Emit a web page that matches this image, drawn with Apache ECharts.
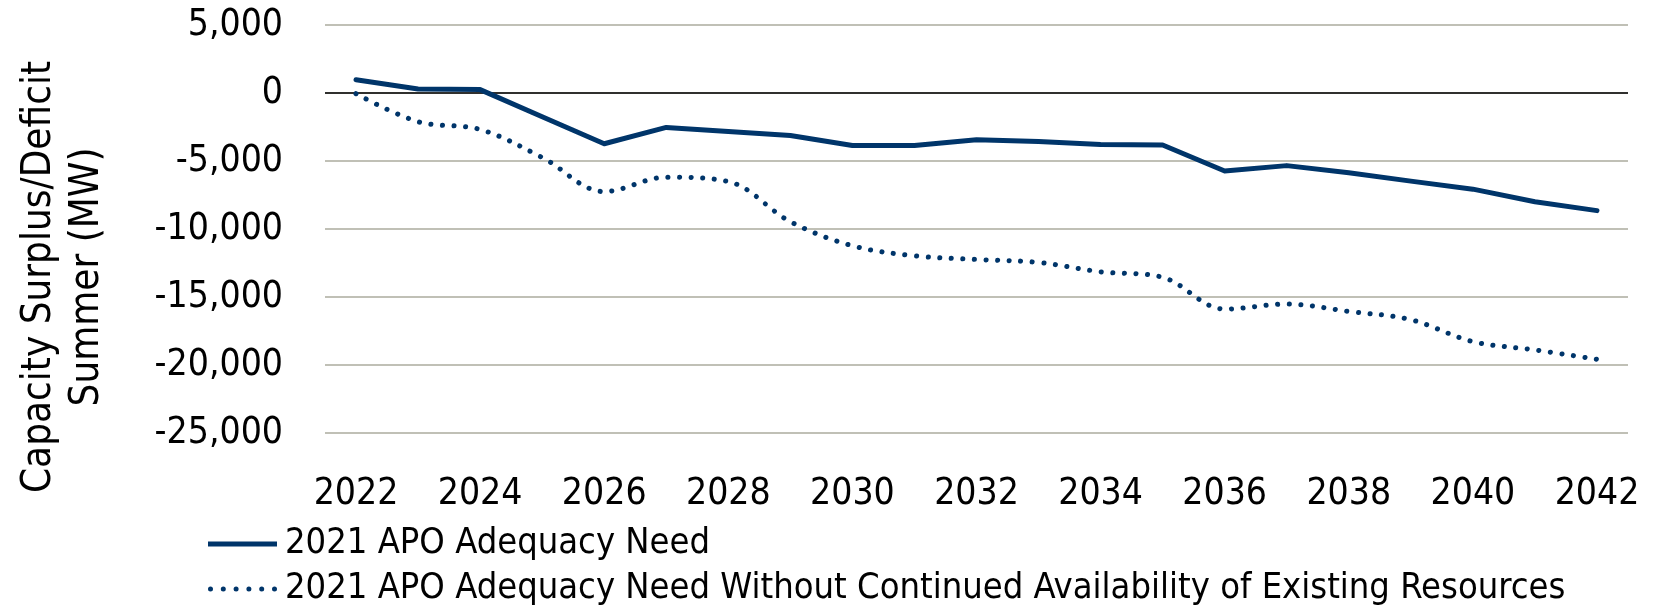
<!DOCTYPE html>
<html>
<head>
<meta charset="utf-8">
<script src="https://cdn.jsdelivr.net/npm/echarts@6/dist/echarts.min.js"></script>
<style>
html,body{margin:0;padding:0;background:#fff;}
#chart{width:1657px;height:613px;}
</style>
</head>
<body>
<div id="chart"></div>
<script>
const years = ['2022','2023','2024','2025','2026','2027','2028','2029','2030','2031','2032',
               '2033','2034','2035','2036','2037','2038','2039','2040','2041','2042'];
const adequacyNeed = [980, 290, 250, -1750, -3730, -2530, -2830, -3120, -3860, -3860, -3440,
                      -3560, -3790, -3820, -5740, -5340, -5860, -6480, -7070, -8000, -8650];
const withoutExisting = [-50, -2110, -2680, -4740, -7250, -6190, -6510, -9460, -11230, -11970, -12240,
                         -12460, -13150, -13550, -15890, -15520, -16060, -16670, -18280, -18890, -19580];
const yTicks = [-25000, -20000, -15000, -10000, -5000, 0, 5000];
const seriesNames = ['2021 APO Adequacy Need',
  '2021 APO Adequacy Need Without Continued Availability of Existing Resources'];
const yTitle = 'Capacity Surplus/Deficit\nSummer (MW)';

const FONT = "'DejaVu Sans Condensed', 'DejaVu Sans', sans-serif";
const NAVY = '#00356A';

const DOTS_ICON = 'path://' + [2.5, 15.3, 28.1, 40.9, 53.7, 66.5].map(cx =>
  'M' + (cx - 2.5) + ',2.5a2.5,2.5 0 1,0 5,0a2.5,2.5 0 1,0 -5,0Z').join(' ');

const legendBase = {
  orient: 'vertical',
  left: 208,
  padding: 0,
  itemWidth: 69,
  itemHeight: 5,
  textStyle: {color: '#000', fontSize: 36, fontFamily: FONT, lineHeight: 40, padding: [0, 0, 0, 3]}
};

const chart = echarts.init(document.getElementById('chart'), null, {renderer: 'canvas'});
chart.setOption({
  animation: false,
  backgroundColor: '#ffffff',
  textStyle: {fontFamily: FONT},
  grid: {left: 325, right: 29, top: 25, bottom: 180},
  xAxis: {
    type: 'category',
    data: years,
    boundaryGap: true,
    axisLine: {show: false},
    axisTick: {show: false},
    splitLine: {show: false},
    axisLabel: {interval: 1, color: '#000', fontSize: 37, fontFamily: FONT, margin: 43}
  },
  yAxis: {
    type: 'value',
    min: yTicks[0],
    max: yTicks[yTicks.length - 1],
    interval: yTicks[1] - yTicks[0],
    axisLine: {show: false},
    axisTick: {show: false},
    splitLine: {show: true, lineStyle: {color: '#C0C0B6', width: 2}},
    axisLabel: {
      color: '#000', fontSize: 37, fontFamily: FONT, margin: 42,
      formatter: v => v.toLocaleString('en-US')
    }
  },
  legend: [
    Object.assign({}, legendBase, {top: 524, data: [{name: seriesNames[0], icon: 'rect'}]}),
    Object.assign({}, legendBase, {top: 569, data: [{name: seriesNames[1], icon: DOTS_ICON}]})
  ],
  graphic: [{
    type: 'text',
    x: 64,
    y: 277,
    rotation: Math.PI / 2,
    style: {
      text: yTitle,
      font: "40px 'DejaVu Sans Condensed', 'DejaVu Sans', sans-serif",
      fill: '#000',
      align: 'center',
      verticalAlign: 'middle',
      lineHeight: 48
    }
  }],
  series: [{
    name: seriesNames[0],
    type: 'line',
    data: adequacyNeed,
    symbol: 'none',
    showSymbol: false,
    lineStyle: {color: NAVY, width: 5, cap: 'round', join: 'round'},
    itemStyle: {color: NAVY},
    z: 3,
    markLine: {
      silent: true,
      symbol: 'none',
      z: 1,
      label: {show: false},
      lineStyle: {color: '#000', width: 1.5, type: 'solid'},
      data: [{yAxis: 0}]
    }
  }, {
    name: seriesNames[1],
    type: 'line',
    data: withoutExisting,
    symbol: 'none',
    showSymbol: false,
    smooth: 0.35,
    lineStyle: {color: NAVY, width: 5, type: [0.1, 11.5], cap: 'round', join: 'round'},
    itemStyle: {color: NAVY},
    z: 3
  }]
});
</script>
</body>
</html>
